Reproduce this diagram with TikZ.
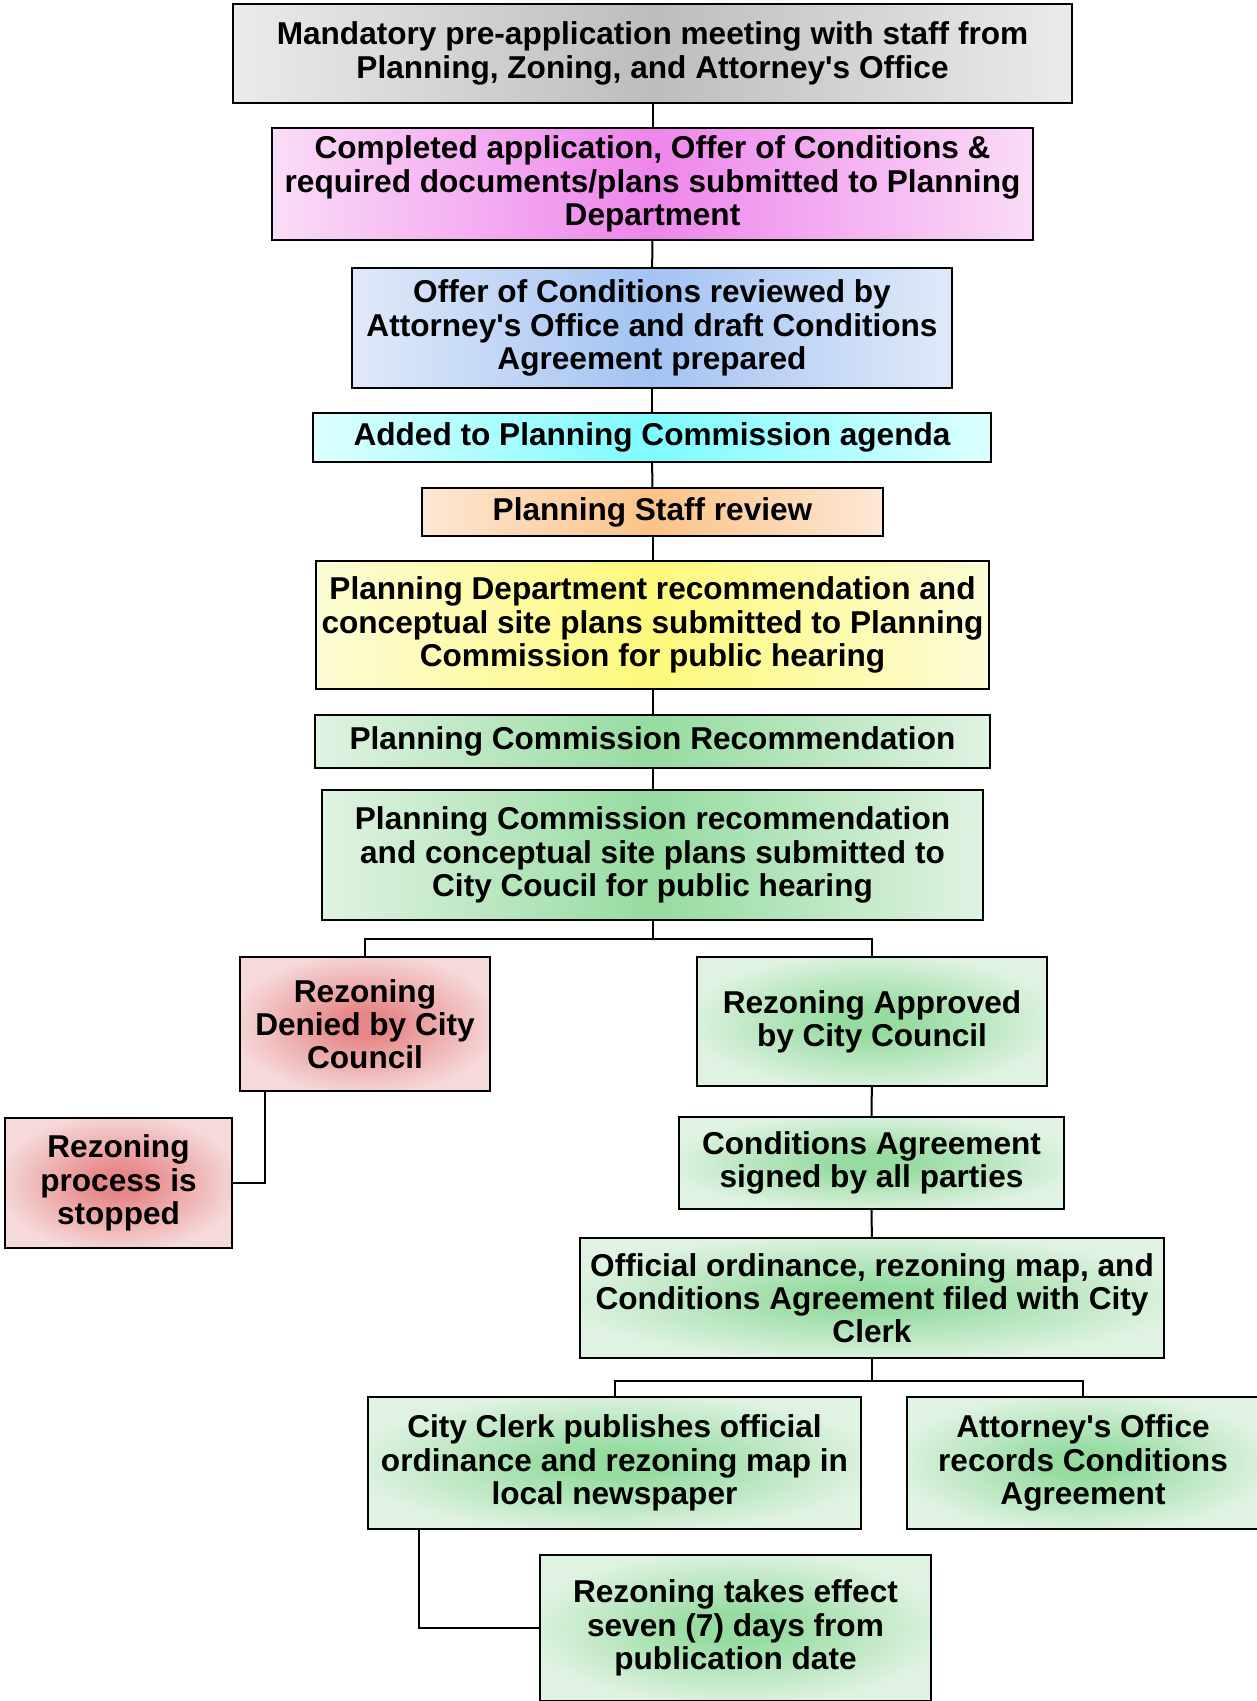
\documentclass[tikz,border=0pt]{standalone}
\usepackage{fontspec}
\setmainfont{Liberation Sans}
\usepackage{xcolor}
\usepackage{tikz}
\usetikzlibrary{positioning}

\definecolor{grayedge}{HTML}{EBEBEB}
\definecolor{graymid}{HTML}{BDBDBD}
\definecolor{pinkedge}{HTML}{FADCF7}
\definecolor{pinkmid}{HTML}{EE85EC}
\definecolor{blueedge}{HTML}{E0E9F9}
\definecolor{bluemid}{HTML}{A3C3F3}
\definecolor{cyanedge}{HTML}{DCFFFF}
\definecolor{cyanmid}{HTML}{7EFBFF}
\definecolor{orangeedge}{HTML}{FDE8D6}
\definecolor{orangemid}{HTML}{FBC387}
\definecolor{yellowedge}{HTML}{FDFCD6}
\definecolor{yellowmid}{HTML}{FDF97C}
\definecolor{greenedge}{HTML}{E0F3E2}
\definecolor{greenmid}{HTML}{96DBA0}
\definecolor{rededge}{HTML}{F6DADA}
\definecolor{redmid}{HTML}{E68888}

\pgfdeclareradialshading{greenglow}{\pgfpointorigin}{color(0bp)=(greenmid); color(5bp)=(greenmid); color(27bp)=(greenedge); color(50bp)=(greenedge)}
\pgfdeclareradialshading{redglow}{\pgfpointorigin}{color(0bp)=(redmid); color(5bp)=(redmid); color(27bp)=(rededge); color(50bp)=(rededge)}

\newcommand{\apos}{\textquotesingle}

\begin{document}
\begin{tikzpicture}[
	x=0.5pt, y=-0.5pt,
	font=\fontsize{15.8}{16.6}\selectfont\bfseries
]
\tikzset{
    stepbox/.style = {rectangle, draw=black, line width=1.2pt, align=center, inner sep=0pt},
    hshade/.style 2 args = {left color=#1, right color=#1, middle color=#2},
    greenbox/.style = {stepbox, shading=greenglow},
    redbox/.style = {stepbox, shading=redglow},
    link/.style = {draw=black, line width=1pt}
}
\useasboundingbox (0,0) rectangle (1257,1701);

% main column
\node[stepbox,hshade={grayedge}{graymid},minimum width=419.5pt,minimum height=49.5pt] (meeting) at (652.5,53.5)
  {Mandatory pre-application meeting with staff from\\Planning, Zoning, and Attorney\apos s Office};
\node[stepbox,hshade={pinkedge}{pinkmid},minimum width=380.5pt,minimum height=56pt] (submitted) at (652.5,184)
  {Completed application, Offer of Conditions \&\\required documents/plans submitted to Planning\\Department};
\node[stepbox,hshade={blueedge}{bluemid},minimum width=300pt,minimum height=60pt] (reviewed) at (652,328)
  {Offer of Conditions reviewed by\\Attorney\apos s Office and draft Conditions\\Agreement prepared};
\node[stepbox,hshade={cyanedge}{cyanmid},minimum width=339pt,minimum height=24.5pt] (agenda) at (652,437.5)
  {Added to Planning Commission agenda};
\node[stepbox,hshade={orangeedge}{orangemid},minimum width=230.5pt,minimum height=24pt] (staff) at (652.5,512)
  {Planning Staff review};
\node[stepbox,hshade={yellowedge}{yellowmid},minimum width=336.5pt,minimum height=64pt] (deptrec) at (652.5,625)
  {Planning Department recommendation and\\conceptual site plans submitted to Planning\\Commission for public hearing};
\node[stepbox,hshade={greenedge}{greenmid},minimum width=337.5pt,minimum height=26.5pt] (commrec) at (652.5,741.5)
  {Planning Commission Recommendation};
\node[stepbox,hshade={greenedge}{greenmid},minimum width=330.5pt,minimum height=65pt] (council) at (652.5,855)
  {Planning Commission recommendation\\and conceptual site plans submitted to\\City Coucil for public hearing};

% denied branch
\node[redbox,minimum width=125pt,minimum height=67pt] (denied) at (365,1024)
  {Rezoning\\Denied by City\\Council};
\node[redbox,minimum width=113.5pt,minimum height=65pt] (stopped) at (118.5,1183)
  {Rezoning\\process is\\stopped};

% approved branch
\node[greenbox,minimum width=175pt,minimum height=64.5pt] (approved) at (872,1021.5)
  {Rezoning Approved\\by City Council};
\node[greenbox,minimum width=192.5pt,minimum height=46pt] (signed) at (871.5,1163)
  {Conditions Agreement\\signed by all parties};
\node[greenbox,minimum width=292pt,minimum height=60pt] (filed) at (872,1298)
  {Official ordinance, rezoning map, and\\Conditions Agreement filed with City\\Clerk};
\node[greenbox,minimum width=246.5pt,minimum height=66pt] (publish) at (614.5,1463)
  {City Clerk publishes official\\ordinance and rezoning map in\\local newspaper};
\node[greenbox,minimum width=176pt,minimum height=66pt] (records) at (1083,1463)
  {Attorney\apos s Office\\records Conditions\\Agreement};
\node[greenbox,minimum width=195.5pt,minimum height=73pt] (effect) at (735.5,1628)
  {Rezoning takes effect\\seven (7) days from\\publication date};

% connectors
\draw[link] (meeting) -- (submitted);
\draw[link] (submitted) -- (reviewed);
\draw[link] (reviewed) -- (agenda);
\draw[link] (agenda) -- (staff);
\draw[link] (staff) -- (deptrec);
\draw[link] (deptrec) -- (commrec);
\draw[link] (commrec) -- (council);
\coordinate (split1) at (652.5,939);
\draw[link] (council.south) -- (split1) -| (denied.north);
\draw[link] (split1) -| (approved.north);
\draw[link] ([xshift=-50pt]denied.south) |- (stopped.east);
\draw[link] (approved) -- (signed);
\draw[link] (signed) -- (filed);
\coordinate (split2) at (872,1381);
\draw[link] (filed.south) -- (split2) -| (publish.north);
\draw[link] (split2) -| (records.north);
\draw[link] ([xshift=-98pt]publish.south) |- (effect.west);
\end{tikzpicture}
\end{document}
